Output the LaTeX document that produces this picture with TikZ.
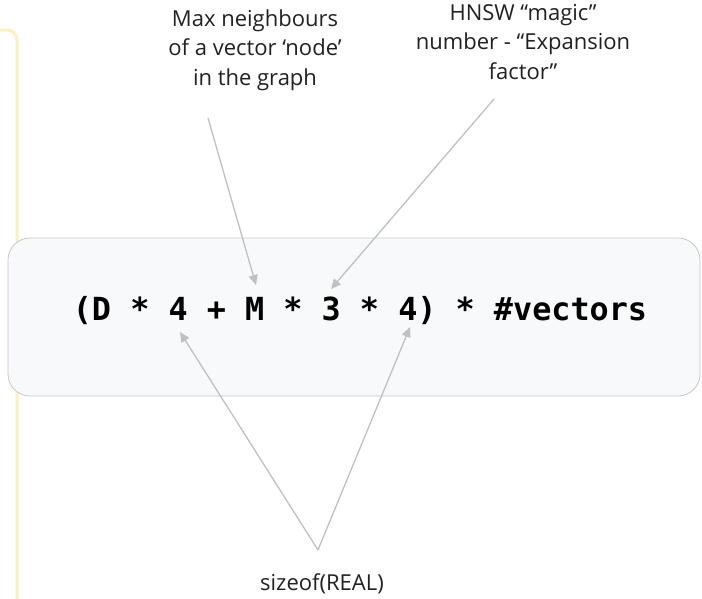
\documentclass[tikz,border=0pt]{standalone}
\usepackage{fontspec}
\setmainfont{Open Sans}
\setmonofont{DejaVu Sans Mono}
\usetikzlibrary{arrows.meta}
\definecolor{framey}{HTML}{FEEFC3}
\definecolor{boxfill}{HTML}{F8F9FA}
\definecolor{boxline}{HTML}{C4C7CC}
\definecolor{pointer}{HTML}{BDC1C6}
\definecolor{inktext}{HTML}{202124}

\begin{document}
\begin{tikzpicture}[x=1pt, y=-1pt,
  note/.style={align=center, text=inktext, font=\fontsize{22}{29.5}\selectfont},
  pointer/.style={-{Triangle[length=10pt, width=9pt]}, line width=1.3pt, draw=pointer}]

	\useasboundingbox (0, 0) rectangle (702, 598);

	% yellow frame on the left
	\draw[line width=3pt, framey, rounded corners=10pt] (-5, 30) -- (17, 30) -- (17, 605);

	% the formula box
	\draw[thick, boxline, fill=boxfill, rounded corners=22pt] (8, 238) rectangle (700, 396);

	\node[font=\fontsize{31.8}{36}\selectfont\ttfamily\bfseries, text=black] (formula) at (360, 311) {(D * 4 + M * 3 * 4) * \#vectors};

	\node[note] (maxlbl) at (255, 50) {Max neighbours\\of a vector ‘node’\\in the graph};
	\node[note] (magiclbl) at (523, 42) {HNSW “magic”\\number - “Expansion\\factor”};
	\node[note] (sizelbl) at (322, 584) {sizeof(REAL)};

	\coordinate (mfrom) at (208, 118);
	\coordinate (mtip) at (256, 285);
	\coordinate (efrom) at (494, 99);
	\coordinate (etip) at (331, 289);
	\coordinate (sfrom) at (318, 550);
	\coordinate (dtip) at (180, 332);
	\coordinate (ftip) at (410, 327);

	\draw[pointer] (mfrom) -- (mtip);
	\draw[pointer] (efrom) -- (etip);
	\draw[pointer] (sfrom) -- (dtip);
	\draw[pointer] (sfrom) -- (ftip);

\end{tikzpicture}
\end{document}
